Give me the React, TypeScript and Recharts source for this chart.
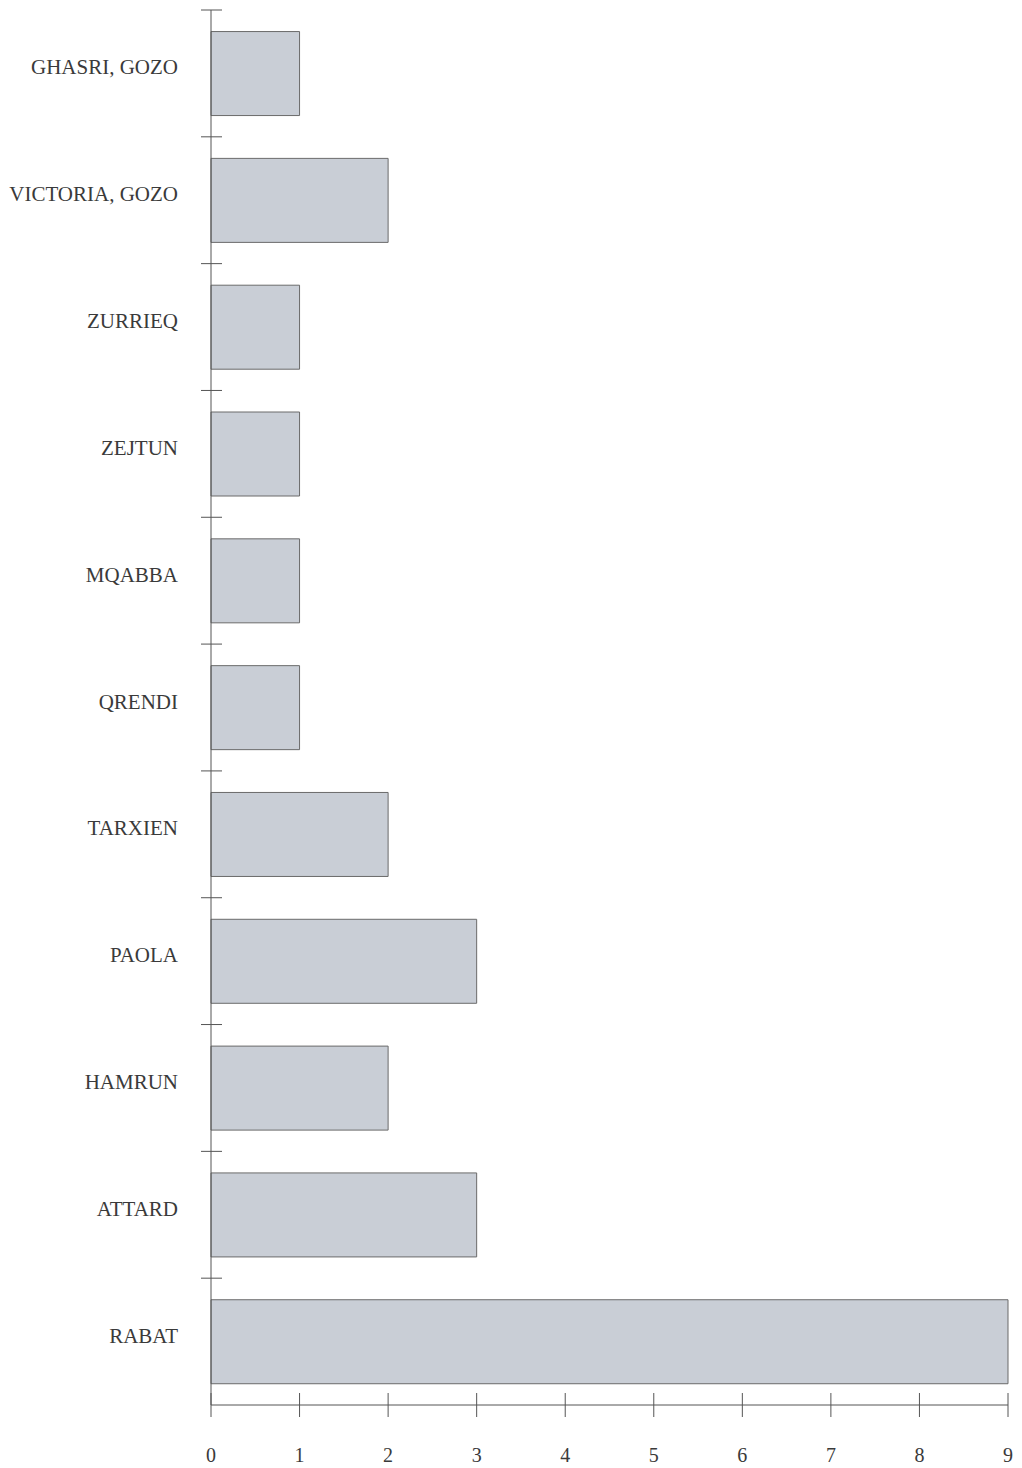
import React from "react";
import { BarChart, Bar, XAxis, YAxis } from "recharts";

const categories = [
  "GHASRI, GOZO",
  "VICTORIA, GOZO",
  "ZURRIEQ",
  "ZEJTUN",
  "MQABBA",
  "QRENDI",
  "TARXIEN",
  "PAOLA",
  "HAMRUN",
  "ATTARD",
  "RABAT",
];
const values = [1, 2, 1, 1, 1, 1, 2, 3, 2, 3, 9];
const xTicks = [0, 1, 2, 3, 4, 5, 6, 7, 8, 9];

const data = categories.map((name, i) => ({ name, value: values[i] }));

const FONT = "'Liberation Serif', 'DejaVu Serif', serif";
const INK = "#3a3a3a";
const AXIS = "#555";

const YTick = (props: any) => {
  const { x, y, payload } = props;
  const half = payload.offset || 0;
  const axisX = x + 33;
  return (
    <g>
      <line x1={axisX - 10} x2={axisX + 11} y1={y - half} y2={y - half} stroke={AXIS} strokeWidth={1} />
      <text x={x} y={y} dy={1} textAnchor="end" fontFamily={FONT} fontSize={21} fill={INK}>
        {payload.value}
      </text>
    </g>
  );
};

const XTick = (props: any) => {
  const { x, y, payload } = props;
  return (
    <g>
      <line x1={x} x2={x} y1={y - 12} y2={y + 12} stroke={AXIS} strokeWidth={1} />
      <text x={x} y={y + 50} dy={7} textAnchor="middle" fontFamily={FONT} fontSize={20} fill={INK}>
        {payload.value}
      </text>
    </g>
  );
};

export default function App() {
  return (
    <div style={{ position: "absolute", left: 0, top: 0, background: "#fff" }}>
      <BarChart
        width={1022}
        height={1468}
        data={data}
        layout="vertical"
        margin={{ top: 10, right: 14, bottom: 0, left: 0 }}
        barCategoryGap="17%"
      >
        <XAxis
          type="number"
          domain={[0, 9]}
          ticks={xTicks}
          interval={0}
          height={63}
          tickSize={0}
          tickMargin={0}
          axisLine={{ stroke: AXIS, strokeWidth: 1 }}
          tickLine={false}
          tick={<XTick />}
        />
        <YAxis
          type="category"
          dataKey="name"
          width={211}
          interval={0}
          tickMargin={0}
          tickSize={33}
          axisLine={{ stroke: AXIS, strokeWidth: 1 }}
          tickLine={false}
          tick={<YTick />}
        />
        <Bar
          dataKey="value"
          fill="#c9ced6"
          stroke="#6a6a6a"
          strokeWidth={1}
          isAnimationActive={false}
        />
      </BarChart>
    </div>
  );
}
